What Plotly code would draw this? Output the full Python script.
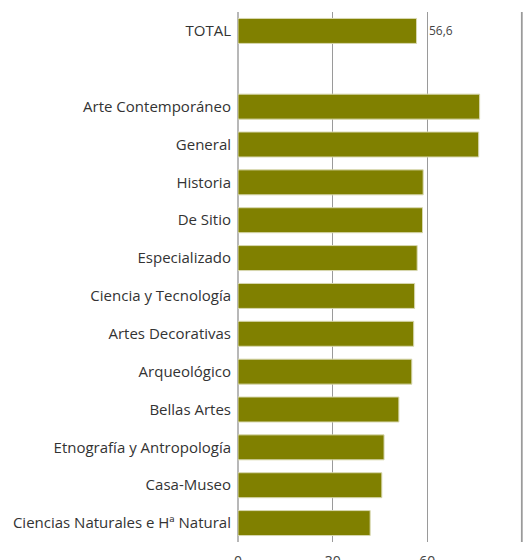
import plotly.graph_objects as go

categories = ["TOTAL", " ", "Arte Contemporáneo", "General", "Historia", "De Sitio",
              "Especializado", "Ciencia y Tecnología", "Artes Decorativas", "Arqueológico",
              "Bellas Artes", "Etnografía y Antropología", "Casa-Museo",
              "Ciencias Naturales e Hª Natural"]
values = [56.6, None, 76.6, 76.3, 58.7, 58.5, 56.8, 56.0, 55.7, 55.1, 51.0, 46.3, 45.6, 41.9]
total_label = "56,6"
x_ticks = [0, 30, 60, 90]

fig = go.Figure(go.Bar(
    y=categories, x=values, orientation="h",
    marker=dict(color="#808000", line=dict(color="#d8d8b0", width=1)),
))

fig.add_annotation(x=values[0], y=categories[0], text=total_label, showarrow=False,
                   xanchor="left", xshift=10,
                   font=dict(size=12, color="#444444", family="Open Sans"))

# gridline at the last tick (plotly drops it at the plot edge)
fig.add_shape(type="line", x0=x_ticks[-1], x1=x_ticks[-1], xref="x",
              y0=0, y1=1, yref="paper", line=dict(color="#b0b0b0", width=2), layer="below")

fig.update_layout(
    width=529, height=560,
    margin=dict(l=238, r=3, t=12, b=18, autoexpand=False),
    paper_bgcolor="white", plot_bgcolor="white",
    bargap=0.34, showlegend=False,
    font=dict(family="Open Sans", color="#333333", size=15),
)
fig.update_xaxes(range=[0, 91.3], tickvals=x_ticks, showgrid=True, gridcolor="#9a9a9a",
                 gridwidth=1, zeroline=True, zerolinecolor="#b8b8b8", zerolinewidth=2,
                 showline=False, ticklabelstandoff=9,
                 tickfont=dict(size=14, color="#444444"))
fig.update_yaxes(categoryorder="array", categoryarray=categories, autorange="reversed",
                 showgrid=False, ticks="", ticklabelstandoff=6,
                 tickfont=dict(size=15, color="#333333"))

fig.write_html("out.html", config={"displayModeBar": False},
               post_script="document.body.style.margin='0';document.body.style.overflow='hidden';")
